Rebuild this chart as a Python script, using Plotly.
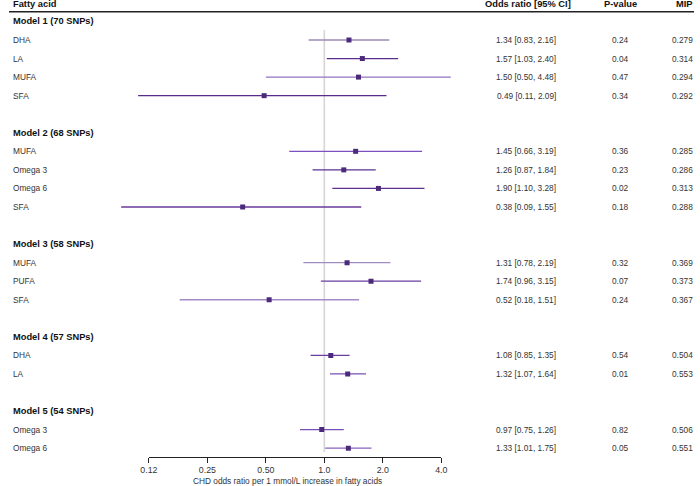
import math
import plotly.graph_objects as go

# ---- data ----
model_names = ["Model 1 (70 SNPs)", "Model 2 (68 SNPs)", "Model 3 (58 SNPs)",
               "Model 4 (57 SNPs)", "Model 5 (54 SNPs)"]
model_index = [0, 0, 0, 0, 1, 1, 1, 1, 2, 2, 2, 3, 3, 4, 4]
fatty_acids = ["DHA", "LA", "MUFA", "SFA",
               "MUFA", "Omega 3", "Omega 6", "SFA",
               "MUFA", "PUFA", "SFA",
               "DHA", "LA",
               "Omega 3", "Omega 6"]
odds_ratio = [1.34, 1.57, 1.50, 0.49, 1.45, 1.26, 1.90, 0.38, 1.31, 1.74, 0.52, 1.08, 1.32, 0.97, 1.33]
ci_low = [0.83, 1.03, 0.50, 0.11, 0.66, 0.87, 1.10, 0.09, 0.78, 0.96, 0.18, 0.85, 1.07, 0.75, 1.01]
ci_high = [2.16, 2.40, 4.48, 2.09, 3.19, 1.84, 3.28, 1.55, 2.19, 3.15, 1.51, 1.35, 1.64, 1.26, 1.75]
p_values = [0.24, 0.04, 0.47, 0.34, 0.36, 0.23, 0.02, 0.18, 0.32, 0.07, 0.24, 0.54, 0.01, 0.82, 0.05]
mip = [0.279, 0.314, 0.294, 0.292, 0.285, 0.286, 0.313, 0.288, 0.369, 0.373, 0.367, 0.504, 0.553, 0.506, 0.551]
tick_vals = [0.125, 0.25, 0.5, 1.0, 2.0, 4.0]
tick_text = ["0.12", "0.25", "0.50", "1.0", "2.0", "4.0"]

# ---- styles ----
line_colors = ["#9c8ab6", "#5c2d8c", "#9472c2", "#5a2a8a",
               "#7c50c0", "#5b3090", "#5b3090", "#6a3a9c",
               "#a08cc0", "#6a3fa0", "#a68ac8",
               "#6a3fa0", "#7b4fb5",
               "#7b4fb5", "#8a60c0"]
marker_color = "#4b2a7c"
FONT = "Liberation Sans, Arial, sans-serif"
W, H = 700, 486

# row layout: header row per model, then items, then a blank row
row_y = []
model_row = []
r = 0
for m in range(len(model_names)):
    model_row.append(r)
    r += 1
    for i, mi in enumerate(model_index):
        if mi == m:
            row_y.append(r)
            r += 1
    r += 1

y_top, y_bot = -1.156, 23.46
axis_px = 456.7
ydom0 = (H - axis_px) / H

fig = go.Figure()

# reference line at OR = 1
fig.add_trace(go.Scatter(x=[1, 1], y=[0.46, 23.21], mode="lines",
                         line=dict(color="#d6d6d6", width=1.6),
                         hoverinfo="skip", showlegend=False))

for i in range(len(fatty_acids)):
    fig.add_trace(go.Scatter(x=[ci_low[i], ci_high[i]], y=[row_y[i], row_y[i]],
                             mode="lines", line=dict(color=line_colors[i], width=1.3),
                             hoverinfo="skip", showlegend=False))

fig.add_trace(go.Scatter(x=odds_ratio, y=row_y, mode="markers",
                         marker=dict(symbol="square", size=5, color=marker_color),
                         showlegend=False))

# invisible trace for the displayed axis
fig.add_trace(go.Scatter(x=[1], y=[None], xaxis="x2", yaxis="y", mode="markers",
                         hoverinfo="skip", showlegend=False))

ann = []
reg = dict(family=FONT, size=8.3, color="#333333")
bold = dict(family=FONT, size=9.3, color="#111111")

def px(x):
    return x / W

# headers
hdr_r = -0.915
ann.append(dict(x=px(2), y=hdr_r, xref="paper", yref="y", text="<b>Fatty acid</b>",
                xanchor="left", showarrow=False, font=bold))
ann.append(dict(x=px(530), y=hdr_r, xref="paper", yref="y", text="<b>Odds ratio [95% CI]</b>",
                xanchor="center", showarrow=False, font=bold))
ann.append(dict(x=px(625), y=hdr_r, xref="paper", yref="y", text="<b>P-value</b>",
                xanchor="center", showarrow=False, font=bold))
ann.append(dict(x=px(690), y=hdr_r, xref="paper", yref="y", text="<b>MIP</b>",
                xanchor="center", showarrow=False, font=bold))

for m, name in enumerate(model_names):
    ann.append(dict(x=px(2), y=model_row[m], xref="paper", yref="y", text="<b>%s</b>" % name,
                    xanchor="left", showarrow=False, font=bold))

for i in range(len(fatty_acids)):
    yy = row_y[i]
    ann.append(dict(x=px(2), y=yy, xref="paper", yref="y", text=fatty_acids[i],
                    xanchor="left", showarrow=False, font=reg))
    ann.append(dict(x=px(528.5), y=yy, xref="paper", yref="y",
                    text="%.2f [%.2f, %.2f]" % (odds_ratio[i], ci_low[i], ci_high[i]),
                    xanchor="center", showarrow=False, font=reg))
    ann.append(dict(x=px(625), y=yy, xref="paper", yref="y", text="%.2f" % p_values[i],
                    xanchor="center", showarrow=False, font=reg))
    ann.append(dict(x=px(688), y=yy, xref="paper", yref="y", text="%.3f" % mip[i],
                    xanchor="center", showarrow=False, font=reg))

ann.append(dict(x=px(284.5), y=1 - 481 / H, xref="paper", yref="paper",
                text="CHD odds ratio per 1 mmol/L increase in fatty acids",
                xanchor="center", yanchor="middle", showarrow=False, font=reg))

ppl = 59.74 / math.log10(2)
x_at_one = 322.2

fig.update_layout(
    width=W, height=H, margin=dict(l=0, r=0, t=0, b=0),
    paper_bgcolor="white", plot_bgcolor="rgba(0,0,0,0)",
    xaxis=dict(type="log", domain=[0, 1],
               range=[-x_at_one / ppl, (W - x_at_one) / ppl],
               showgrid=False, zeroline=False, showline=False,
               showticklabels=False, ticks=""),
    xaxis2=dict(type="log", domain=[143 / W, 441.7 / W],
                range=[math.log10(0.125), math.log10(4)],
                anchor="y", side="bottom",
                showgrid=False, zeroline=False, showline=True,
                linecolor="#222222", linewidth=1,
                ticks="outside", ticklen=5, tickwidth=1, tickcolor="#222222",
                tickmode="array", tickvals=tick_vals, ticktext=tick_text,
                tickfont=dict(family=FONT, size=8.8, color="#333333")),
    yaxis=dict(domain=[ydom0, 1], range=[y_bot, y_top], autorange=False,
               showgrid=False, zeroline=False, showline=False,
               showticklabels=False, ticks=""),
    shapes=[dict(type="line", xref="paper", yref="paper", x0=0, x1=1,
                 y0=1 - 11.7 / H, y1=1 - 11.7 / H,
                 line=dict(color="#222222", width=1.5))],
    annotations=ann,
    showlegend=False,
)

fig.write_html("out.html", config={"displayModeBar": False},
               post_script="document.body.style.margin='0';")
